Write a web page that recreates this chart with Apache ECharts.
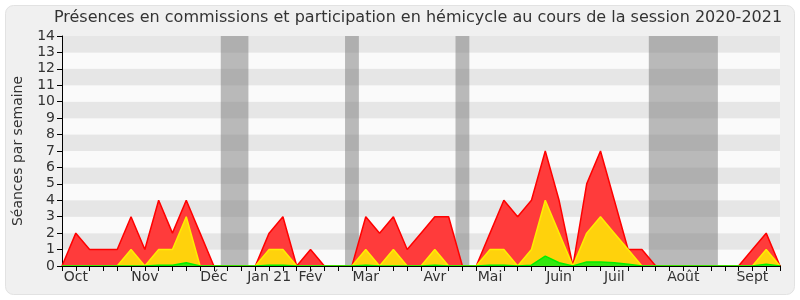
<!DOCTYPE html>
<html><head><meta charset="utf-8">
<script src="https://cdn.jsdelivr.net/npm/echarts@6/dist/echarts.min.js"></script>
<style>html,body{margin:0;padding:0;background:#fff}#c{width:800px;height:300px}</style>
</head><body><div id="c"></div>
<script>
// weekly data, week index 0..52
const red    = [0,2,1,1,1,3,1,4,2,4,2,0,0,0,0,2,3,0,1,0,0,0,3,2,3,1,2,3,3,0,0,2,4,3,4,7,4,0,5,7,4,1,1,0,0,0,0,0,0,0,1,2,0];
const yellow = [0,0,0,0,0,1,0,1,1,3,0,0,0,0,0,1,1,0,0,0,0,0,1,0,1,0,0,1,0,0,0,1,1,0,1,4,2,0,2,3,2,1,0,0,0,0,0,0,0,0,0,1,0];
const green  = [0,0,0,0,0,0,0,0.05,0.05,0.2,0,0,0,0,0,0.05,0.05,0,0,0,0,0,0.05,0,0,0,0,0.05,0,0,0,0.05,0.05,0,0.05,0.6,0.2,0,0.25,0.25,0.2,0.1,0,0,0,0,0,0,0,0,0,0.1,0];
const monthNames = ['Oct','Nov','Déc','Jan 21','Fév','Mar','Avr','Mai','Juin','Juil','Août','Sept'];
const monthWeeks = [1,6,11,15,18,22,27,31,36,40,45,50];
const vacations = [[11.5,13.5],[20.5,21.5],[28.5,29.5],[42.5,47.5]];
const yTicks = [0,14,1];

const toPts = arr => arr.map((v,i)=>[i,v]);
const labelFor = v => { const k = monthWeeks.indexOf(Math.round(v)); return k>=0 ? monthNames[k] : ''; };
const nWeeks = red.length - 1;

const chart = echarts.init(document.getElementById('c'));
chart.setOption({
  animation:false,
  backgroundColor:'#ffffff',
  graphic:[{type:'rect',z:-10,shape:{x:5.5,y:5.5,width:789,height:289,r:8},style:{fill:'#f0f0f0',stroke:'#e2e2e2',lineWidth:1}}],
  title:{text:'Présences en commissions et participation en hémicycle au cours de la session 2020-2021',
    left:413,textAlign:'center',top:5,textStyle:{fontFamily:'DejaVu Sans',fontSize:16,fontWeight:'normal',color:'#333'}},
  grid:{left:62,right:20,top:36,bottom:34},
  xAxis:[{type:'value',min:0,max:nWeeks,interval:1,z:10,
    axisLine:{show:true,onZero:false,lineStyle:{color:'#000',width:1}},
    axisTick:{show:true,length:5,lineStyle:{color:'#000'}},
    axisLabel:{formatter:labelFor,color:'#333',fontFamily:'DejaVu Sans',fontSize:14,margin:4,showMinLabel:true,showMaxLabel:true},
    splitLine:{show:false}},
   {type:'value',position:'top',min:0,max:nWeeks,interval:1,
    axisLine:{show:false},axisTick:{show:true,length:1,lineStyle:{color:'#000'}},
    axisLabel:{show:false},splitLine:{show:false}}],
  yAxis:{type:'value',min:yTicks[0],max:yTicks[1],interval:yTicks[2],
    name:'Séances par semaine',nameLocation:'middle',nameGap:37,
    nameTextStyle:{fontFamily:'DejaVu Sans',fontSize:14,color:'#333'},
    axisLine:{show:true,lineStyle:{color:'#000'}},
    axisTick:{show:true,length:5,lineStyle:{color:'#000'}},
    axisLabel:{color:'#333',fontFamily:'DejaVu Sans',fontSize:14,margin:7},
    splitLine:{show:false},
    splitArea:{show:true,areaStyle:{color:['#fafafa','#e6e6e6']}}},
  series:[
    {type:'line',data:toPts(red),symbol:'none',z:3,
     lineStyle:{color:'#ff0000',width:1.5},areaStyle:{color:'#ff3b3b',opacity:1},
     markArea:{silent:true,itemStyle:{color:'rgba(120,120,120,0.5)'},
       data:vacations.map(v=>[{xAxis:v[0]},{xAxis:v[1]}])}},
    {type:'line',data:toPts(yellow),symbol:'none',z:4,
     lineStyle:{color:'#ffee00',width:1.5},areaStyle:{color:'#ffd20c',opacity:1}},
    {type:'line',data:toPts(green),symbol:'none',z:5,
     lineStyle:{color:'#00ee00',width:1.5},areaStyle:{color:'#33e80e',opacity:1}}
  ]
});
</script></body></html>
